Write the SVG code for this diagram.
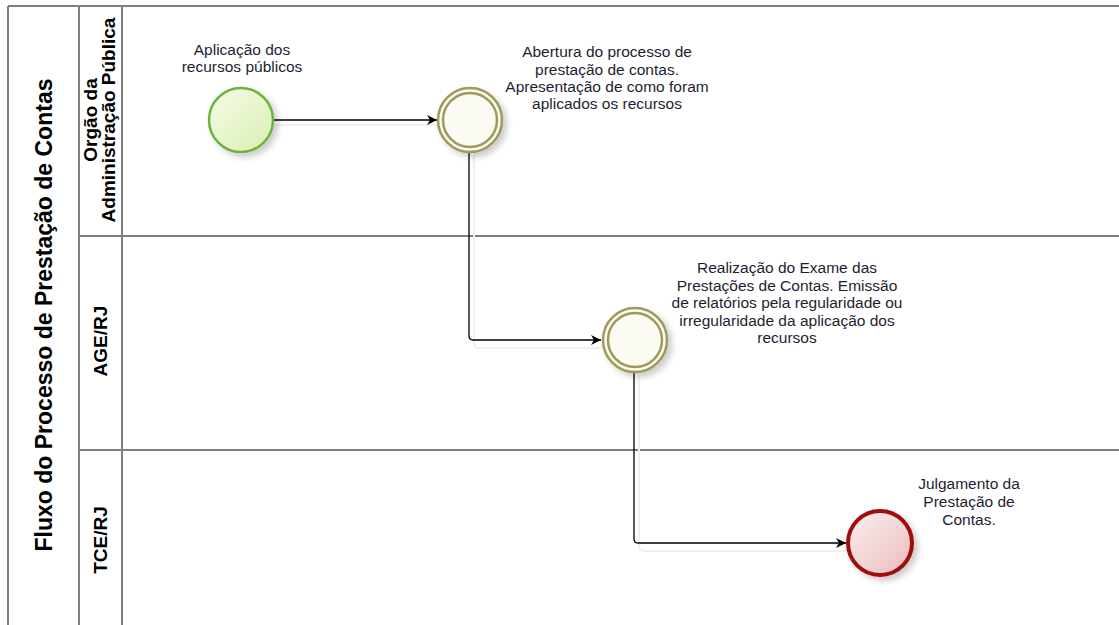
<svg xmlns="http://www.w3.org/2000/svg" width="1119" height="625" viewBox="0 0 1119 625">
<style>
.frame{stroke:#7f7f7f;stroke-width:2;fill:none}
.title{font-family:"Liberation Sans",Arial,sans-serif;font-weight:bold;font-size:23px;fill:#000;text-anchor:middle}
.lane{font-family:"Liberation Sans",Arial,sans-serif;font-weight:bold;font-size:19px;fill:#000;text-anchor:middle}
.lbl{font-family:"Liberation Sans",Arial,sans-serif;font-size:15.5px;fill:#1e1e32;text-anchor:middle}
.conn{stroke:#000;stroke-width:1.3;fill:none;marker-end:url(#arr)}
.connsh{stroke:#f0f0f0;stroke-width:2;fill:none}
.inter{fill:#fbfaf3;stroke:#a09a5a;stroke-width:2.5}
</style>
<defs>
<marker id="arr" viewBox="0 0 10 10" refX="10" refY="5" markerWidth="10" markerHeight="10" markerUnits="userSpaceOnUse" orient="auto">
<path d="M0,0 L10,5 L0,10 L3,5 Z" fill="#000"/>
</marker>
<linearGradient id="gstart" x1="0" y1="0" x2="1" y2="1">
<stop offset="0" stop-color="#f6fbe9"/><stop offset="1" stop-color="#d9efb0"/>
</linearGradient>
<linearGradient id="gend" x1="0" y1="0" x2="1" y2="1">
<stop offset="0" stop-color="#fbefef"/><stop offset="1" stop-color="#ecbcbc"/>
</linearGradient>
<filter id="sh" x="-30%" y="-30%" width="170%" height="170%">
<feGaussianBlur in="SourceAlpha" stdDeviation="3"/>
<feOffset dx="4" dy="4" result="b"/>
<feComponentTransfer><feFuncA type="linear" slope="0.2"/></feComponentTransfer>
<feMerge><feMergeNode/><feMergeNode in="SourceGraphic"/></feMerge>
</filter>
</defs>
<rect width="1119" height="625" fill="#fff"/>
<g id="pool">
<line class="frame" x1="8" y1="6" x2="1119" y2="6"/>
<line class="frame" x1="8" y1="6" x2="8" y2="625"/>
<line class="frame" x1="79" y1="6" x2="79" y2="625"/>
<line class="frame" x1="122" y1="6" x2="122" y2="625"/>
<line class="frame" x1="79" y1="236" x2="1119" y2="236"/>
<line class="frame" x1="79" y1="450" x2="1119" y2="450"/>
<text class="title" transform="translate(52,315) rotate(-90)">Fluxo do Processo de Prestação de Contas</text>
</g>
<g id="lane1">
<text class="lane" transform="translate(97,120) rotate(-90)">Orgão da</text>
<text class="lane" transform="translate(115,120) rotate(-90)">Administração Pública</text>
</g>
<g id="lane2">
<text class="lane" transform="translate(107,341) rotate(-90)">AGE/RJ</text>
</g>
<g id="lane3">
<text class="lane" transform="translate(107,540) rotate(-90)">TCE/RJ</text>
</g>
<g id="connectors">
<path class="connsh" d="M276,125 H440"/>
<path class="connsh" d="M474,155 V343 Q474,348 479,348 H605"/>
<path class="connsh" d="M639,375 V546 Q639,551 644,551 H850"/>
<path class="conn" d="M274,120 H437"/>
<path class="conn" d="M469,153 V336 Q469,340 473,340 H601"/>
<path class="conn" d="M634,373 V539 Q634,543 638,543 H846"/>
</g>
<g id="start">
<circle cx="241" cy="120" r="32" fill="url(#gstart)" stroke="#6cb33e" stroke-width="2.5" filter="url(#sh)"/>
<text class="lbl" x="242" y="55">Aplicação dos</text>
<text class="lbl" x="242" y="72">recursos públicos</text>
</g>
<g id="abertura">
<circle class="inter" cx="470" cy="120" r="32" filter="url(#sh)"/>
<circle cx="470" cy="120" r="27" fill="none" stroke="#a09a5a" stroke-width="2.5"/>
<text class="lbl" x="607" y="57">Abertura do processo de</text>
<text class="lbl" x="607" y="75">prestação de contas.</text>
<text class="lbl" x="607" y="92">Apresentação de como foram</text>
<text class="lbl" x="607" y="109">aplicados os recursos</text>
</g>
<g id="exame">
<circle class="inter" cx="635" cy="340" r="32" filter="url(#sh)"/>
<circle cx="635" cy="340" r="27" fill="none" stroke="#a09a5a" stroke-width="2.5"/>
<text class="lbl" x="787" y="273">Realização do Exame das</text>
<text class="lbl" x="787" y="291">Prestações de Contas. Emissão</text>
<text class="lbl" x="787" y="308">de relatórios pela regularidade ou</text>
<text class="lbl" x="787" y="326">irregularidade da aplicação dos</text>
<text class="lbl" x="787" y="343">recursos</text>
</g>
<g id="julgamento">
<circle cx="880" cy="543" r="32" fill="url(#gend)" stroke="#a00f0f" stroke-width="4" filter="url(#sh)"/>
<text class="lbl" x="969" y="489">Julgamento da</text>
<text class="lbl" x="969" y="507">Prestação de</text>
<text class="lbl" x="969" y="525">Contas.</text>
</g>
</svg>
